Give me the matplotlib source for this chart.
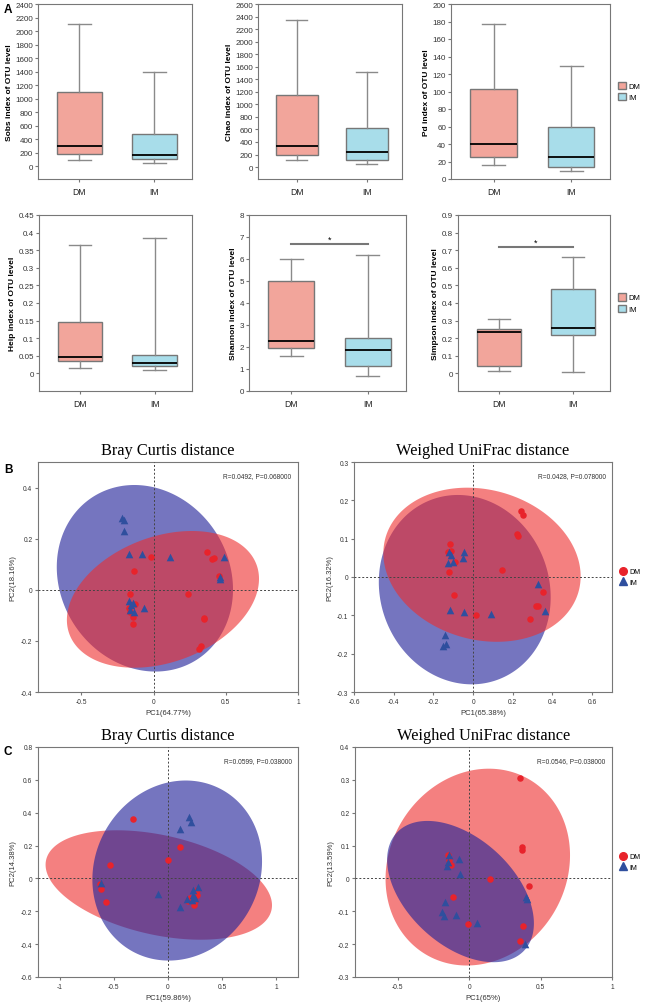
import numpy as np
import matplotlib
matplotlib.use("Agg")
import matplotlib.pyplot as plt
from matplotlib.patches import Patch
from matplotlib.lines import Line2D

plt.rcParams['font.family'] = ['Liberation Sans', 'DejaVu Sans']

# ---------------- Panel A data (min, q1, median, q3, max) ----------------
groups = ["DM", "IM"]
sobs_dm = [90, 175, 305, 1100, 2110]
sobs_im = [40, 100, 170, 475, 1400]
chao_dm = [110, 195, 340, 1155, 2340]
chao_im = [55, 115, 235, 625, 1510]
pd_dm = [16, 25, 40, 103, 177]
pd_im = [9, 14, 25, 60, 129]
heip_dm = [0.015, 0.034, 0.047, 0.147, 0.366]
heip_im = [0.011, 0.020, 0.030, 0.053, 0.386]
shannon_dm = [1.60, 1.95, 2.27, 4.98, 5.98]
shannon_im = [0.67, 1.13, 1.88, 2.42, 6.18]
simpson_dm = [0.015, 0.040, 0.237, 0.255, 0.310]
simpson_im = [0.008, 0.220, 0.260, 0.478, 0.660]

# ---------------- PCoA data ----------------
bcB_dm_x = [-0.016, -0.138, 0.373, 0.415, 0.406, 0.454, 0.237, 0.346, 0.350, 0.325, 0.318,
            -0.166, -0.127, -0.161, -0.145, -0.143, -0.173]
bcB_dm_y = [0.129, 0.073, 0.149, 0.123, 0.120, 0.052, -0.018, -0.116, -0.112, -0.220, -0.233,
            -0.018, -0.054, -0.086, -0.106, -0.135, -0.073]
bcB_im_x = [-0.221, -0.203, -0.207, -0.173, -0.083, 0.113, 0.491, 0.463, 0.461,
            -0.170, -0.145, -0.166, -0.134, -0.067, -0.157]
bcB_im_y = [0.280, 0.273, 0.231, 0.139, 0.139, 0.128, 0.128, 0.044, 0.051,
            -0.044, -0.050, -0.080, -0.086, -0.070, -0.060]

wuB_dm_x = [0.243, 0.250, 0.222, 0.227, 0.145, -0.117, -0.125, -0.112, -0.092, -0.123,
            -0.097, 0.017, 0.352, 0.317, 0.325, 0.287]
wuB_dm_y = [0.172, 0.163, 0.111, 0.108, 0.018, 0.086, 0.064, 0.068, 0.040, 0.013,
            -0.048, -0.098, -0.038, -0.075, -0.076, -0.110]
wuB_im_x = [-0.120, -0.113, -0.128, -0.103, -0.045, -0.053, 0.328, 0.360, -0.115, -0.047,
            0.088, -0.140, -0.150, -0.137]
wuB_im_y = [0.064, 0.057, 0.036, 0.040, 0.064, 0.050, -0.017, -0.089, -0.086, -0.092,
            -0.097, -0.150, -0.179, -0.176]

bcC_dm_x = [-0.321, 0.111, 0.003, -0.537, -0.620, -0.630, -0.574, 0.204, 0.250, 0.244,
            0.272, 0.265, 0.188]
bcC_dm_y = [0.363, 0.193, 0.110, 0.079, -0.067, -0.032, -0.142, -0.120, -0.140, -0.164,
            -0.103, -0.073, -0.136]
bcC_im_x = [0.198, 0.210, 0.111, -0.614, -0.090, 0.111, 0.179, 0.235, 0.275, 0.228, 0.250, 0.219]
bcC_im_y = [0.373, 0.343, 0.302, -0.028, -0.093, -0.174, -0.124, -0.073, -0.053, -0.103,
            -0.120, -0.134]

wuC_dm_x = [0.355, 0.369, 0.372, 0.145, 0.418, -0.147, -0.140, -0.131, -0.114, -0.007,
            0.376, 0.353, -0.143]
wuC_dm_y = [0.306, 0.097, 0.088, -0.001, -0.023, 0.072, 0.055, 0.040, -0.056, -0.140,
            -0.146, -0.190, 0.045]
wuC_im_x = [-0.143, -0.147, -0.154, -0.072, -0.065, 0.400, 0.407, -0.173, -0.189, -0.178,
            -0.096, 0.051, 0.390]
wuC_im_y = [0.070, 0.050, 0.037, 0.060, 0.014, -0.057, -0.062, -0.072, -0.103, -0.113,
            -0.111, -0.136, -0.201]

# ellipse params: (center x, center y, half x-range, half y-range, tilt)
bcB_dm_ell = (0.065, -0.0375, 0.665, 0.2675, 0.30)
bcB_im_ell = (-0.06, 0.045, 0.61, 0.365, -0.12)
wuB_dm_ell = (0.045, 0.032, 0.497, 0.201, -0.15)
wuB_im_ell = (-0.042, -0.033, 0.433, 0.247, -0.08)
bcC_dm_ell = (-0.085, -0.04, 1.045, 0.333, -0.37)
bcC_im_ell = (0.085, 0.048, 0.783, 0.548, 0.10)
wuC_dm_ell = (0.06, 0.0345, 0.646, 0.2995, 0.12)
wuC_im_ell = (-0.061, -0.04, 0.514, 0.215, -0.45)

stats_B = ["R=0.0492, P=0.068000", "R=0.0428, P=0.078000"]
stats_C = ["R=0.0599, P=0.038000", "R=0.0546, P=0.038000"]

DM_BOX = "#F2A59B"
IM_BOX = "#A8DDEA"
RED_PT = "#E8232B"
BLUE_PT = "#2F4F9E"
RED_ELL = "#EE2C2C"
BLUE_ELL = "#24249A"

fig = plt.figure(figsize=(6.5, 10.04), dpi=100)

def fr(left, top, width, height):
    return [left / 650, 1 - (top + height) / 1004, width / 650, height / 1004]

def make_stats(v, label):
    return dict(whislo=v[0], q1=v[1], med=v[2], q3=v[3], whishi=v[4], label=label)

def boxpanel(rect, dm, im, ylabel, ylim, yticks, ytl, sig=None):
    ax = fig.add_axes(rect)
    st = [make_stats(dm, groups[0]), make_stats(im, groups[1])]
    bp = ax.bxp(st, positions=[1, 2], widths=0.6, patch_artist=True, showfliers=False,
                boxprops=dict(edgecolor="#777777", linewidth=1.0),
                whiskerprops=dict(color="#8a8a8a", linewidth=1.0),
                capprops=dict(color="#8a8a8a", linewidth=1.0),
                medianprops=dict(color="black", linewidth=1.3))
    for b, c in zip(bp['boxes'], [DM_BOX, IM_BOX]):
        b.set_facecolor(c)
    ax.set_xlim(0.45, 2.5)
    ax.set_ylim(*ylim)
    ax.set_yticks(yticks)
    ax.set_yticklabels(ytl, fontsize=5.8, color="#333333")
    ax.tick_params(axis='x', labelsize=6.2, length=2, colors="#777777", labelcolor="#222222")
    ax.tick_params(axis='y', length=2, colors="#777777", labelcolor="#333333", pad=1.5)
    for s in ax.spines.values():
        s.set_color("#777777")
        s.set_linewidth(0.8)
    ax.set_ylabel(ylabel, fontsize=6, fontweight='bold', labelpad=2)
    if sig is not None:
        ax.plot([1, 2], [sig, sig], color="#777777", lw=1.5)
        ax.text(1.5, sig, "*", ha='center', va='bottom', fontsize=6.5)
    return ax

def fmt(vals):
    return [("%g" % v) for v in vals]

t = list(range(0, 2401, 200))
boxpanel(fr(38, 5, 154, 175), sobs_dm, sobs_im, "Sobs index of OTU level", (-190, 2400), t, fmt(t))
t = list(range(0, 2601, 200))
boxpanel(fr(258, 5, 144, 175), chao_dm, chao_im, "Chao index of OTU level", (-190, 2600), t, fmt(t))
t = list(range(0, 201, 20))
axpd = boxpanel(fr(451, 5, 159, 175), pd_dm, pd_im, "Pd index of OTU level", (0, 200), t, fmt(t))
t = [round(0.05 * i, 2) for i in range(10)]
boxpanel(fr(39, 216, 153, 176), heip_dm, heip_im, "Heip index of OTU level", (-0.05, 0.45), t, fmt(t))
t = list(range(0, 9))
boxpanel(fr(249, 216, 157, 176), shannon_dm, shannon_im, "Shannon index of OTU level", (0, 8), t, fmt(t), sig=6.7)
t = [round(0.1 * i, 1) for i in range(10)]
axsi = boxpanel(fr(458, 216, 152, 176), simpson_dm, simpson_im, "Simpson index of OTU level", (-0.1, 0.9), t, fmt(t), sig=0.72)

box_handles = [Patch(facecolor=DM_BOX, edgecolor="#777777", label="DM"),
               Patch(facecolor=IM_BOX, edgecolor="#777777", label="IM")]
for ax in (axpd, axsi):
    ax.legend(handles=box_handles, loc='center left', bbox_to_anchor=(1.03, 0.5),
              frameon=False, fontsize=5.5, handlelength=1.1, handleheight=1.1,
              handletextpad=0.3, labelspacing=0.4, borderaxespad=0)

def ell(ax, p, color, alpha, z):
    cx, cy, A, B, s = p
    tt = np.linspace(0, 2 * np.pi, 300)
    phi = np.arcsin(s)
    ax.fill(cx + A * np.cos(tt), cy + B * np.sin(tt + phi), color=color, alpha=alpha, lw=0, zorder=z)

def pcoa(rect, title, stat, dmx, dmy, imx, imy, dm_e, im_e, red_on_top, xlim, ylim,
         xticks, yticks, xlabel, ylabel, legend=False):
    ax = fig.add_axes(rect)
    if red_on_top:
        ell(ax, im_e, BLUE_ELL, 0.63, 1)
        ell(ax, dm_e, RED_ELL, 0.6, 2)
    else:
        ell(ax, dm_e, RED_ELL, 0.6, 1)
        ell(ax, im_e, BLUE_ELL, 0.63, 2)
    ax.axhline(0, color="#444444", lw=0.7, ls=(0, (2, 2)), zorder=3)
    ax.axvline(0, color="#444444", lw=0.7, ls=(0, (2, 2)), zorder=3)
    ax.scatter(dmx, dmy, s=22, marker='o', color=RED_PT, zorder=4, linewidths=0)
    ax.scatter(imx, imy, s=30, marker='^', color=BLUE_PT, zorder=5, linewidths=0)
    ax.set_xlim(*xlim)
    ax.set_ylim(*ylim)
    ax.set_xticks(xticks)
    ax.set_yticks(yticks)
    ax.set_xticklabels(fmt(xticks))
    ax.set_yticklabels(fmt(yticks))
    ax.tick_params(labelsize=4.8, length=2.5, colors="#777777", labelcolor="#333333", pad=1.5)
    for s in ax.spines.values():
        s.set_color("#777777")
        s.set_linewidth(0.8)
    ax.set_xlabel(xlabel, fontsize=5.5, color="#333333", labelpad=3)
    ax.set_ylabel(ylabel, fontsize=5.5, color="#333333", labelpad=3)
    ax.set_title(title, fontsize=11.8, family=['Liberation Serif', 'DejaVu Serif'], pad=6)
    ax.text(0.975, 0.955, stat, transform=ax.transAxes, ha='right', va='top', fontsize=4.8, color="#333333")
    if legend:
        hs = [Line2D([], [], marker='o', ls='', color=RED_PT, markersize=5.5, label="DM"),
              Line2D([], [], marker='^', ls='', color=BLUE_PT, markersize=6, label="IM")]
        ax.legend(handles=hs, loc='center left', bbox_to_anchor=(1.02, 0.5), frameon=False,
                  fontsize=5, handletextpad=0.3, labelspacing=0.5, borderaxespad=0,
                  handlelength=1.0)
    return ax

pcoa(fr(38, 463, 260, 230), "Bray Curtis distance", stats_B[0], bcB_dm_x, bcB_dm_y, bcB_im_x, bcB_im_y,
     bcB_dm_ell, bcB_im_ell, True, (-0.8, 1.0), (-0.4, 0.5), [-0.5, 0, 0.5, 1],
     [-0.4, -0.2, 0, 0.2, 0.4], "PC1(64.77%)", "PC2(18.16%)")
pcoa(fr(354, 463, 258, 230), "Weighed UniFrac distance", stats_B[1], wuB_dm_x, wuB_dm_y, wuB_im_x, wuB_im_y,
     wuB_dm_ell, wuB_im_ell, True, (-0.6, 0.7), (-0.3, 0.3), [-0.6, -0.4, -0.2, 0, 0.2, 0.4, 0.6],
     [-0.3, -0.2, -0.1, 0, 0.1, 0.2, 0.3], "PC1(65.38%)", "PC2(16.32%)", legend=True)
pcoa(fr(38, 748, 260, 230), "Bray Curtis distance", stats_C[0], bcC_dm_x, bcC_dm_y, bcC_im_x, bcC_im_y,
     bcC_dm_ell, bcC_im_ell, False, (-1.2, 1.2), (-0.6, 0.8), [-1, -0.5, 0, 0.5, 1],
     [-0.6, -0.4, -0.2, 0, 0.2, 0.4, 0.6, 0.8], "PC1(59.86%)", "PC2(14.38%)")
pcoa(fr(355, 748, 257, 230), "Weighed UniFrac distance", stats_C[1], wuC_dm_x, wuC_dm_y, wuC_im_x, wuC_im_y,
     wuC_dm_ell, wuC_im_ell, False, (-0.8, 1.0), (-0.3, 0.4), [-0.5, 0, 0.5, 1],
     [-0.3, -0.2, -0.1, 0, 0.1, 0.2, 0.3, 0.4], "PC1(65%)", "PC2(13.59%)", legend=True)

fig.text(4 / 650, 1 - 10 / 1004, "A", fontsize=8.5, fontweight='bold', va='center')
fig.text(4 / 650, 1 - 470 / 1004, "B", fontsize=8.5, fontweight='bold', va='center')
fig.text(4 / 650, 1 - 752 / 1004, "C", fontsize=8.5, fontweight='bold', va='center')

fig.savefig("out.png", dpi=100)
